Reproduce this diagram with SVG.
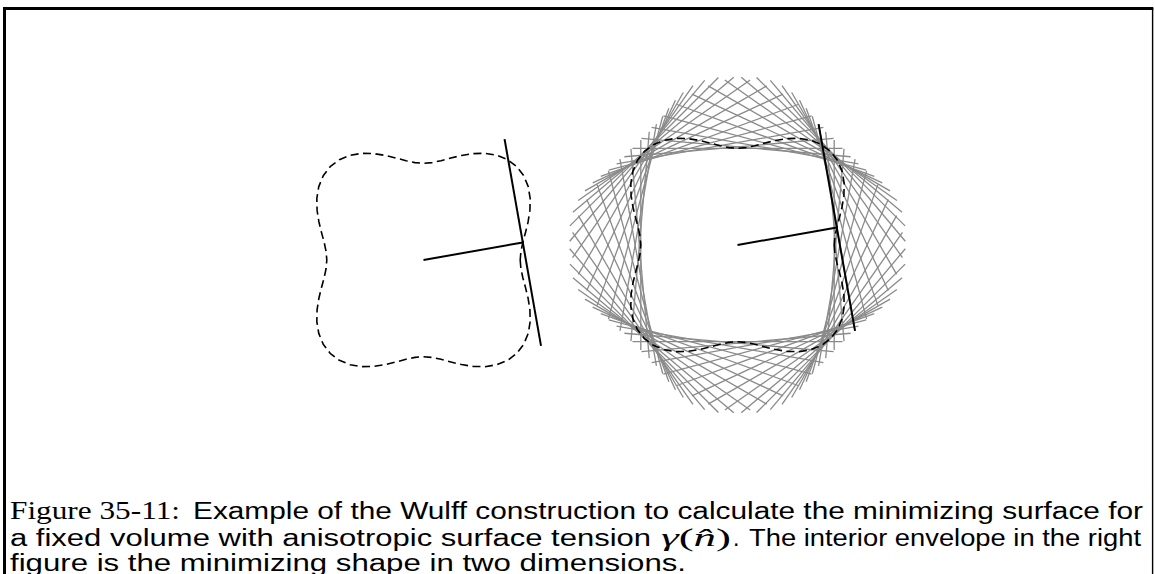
<svg xmlns="http://www.w3.org/2000/svg" xmlns:xlink="http://www.w3.org/1999/xlink" width="1155" height="574" viewBox="0 0 1155 574">
<style>
.frame{stroke:#000;fill:none}
.gamma{fill:none;stroke:#000;stroke-width:1.6;stroke-dasharray:8 4.5;stroke-linejoin:round}
.blk{stroke:#000;stroke-width:2;fill:none;stroke-linecap:butt}
.wulff{stroke:#8a8a8a;stroke-width:1.3;fill:none}
.sans{font-family:"Liberation Sans","DejaVu Sans",sans-serif;font-size:23px;fill:#000}
.serif{font-family:"Liberation Serif","DejaVu Serif",serif;font-size:25px;fill:#000}
</style>
<defs>
<path id="gammaCurve" d="M96.70,0 L97.39,8.52 L99.30,17.51 L101.93,27.31 L104.57,38.06 L106.41,49.62 L106.67,61.59 L104.74,73.34 L100.30,84.16 L93.34,93.34 L84.16,100.30 L73.34,104.74 L61.59,106.67 L49.62,106.41 L38.06,104.57 L27.31,101.93 L17.51,99.30 L8.52,97.39 L0,96.70 L-8.52,97.39 L-17.51,99.30 L-27.31,101.93 L-38.06,104.57 L-49.62,106.41 L-61.59,106.67 L-73.34,104.74 L-84.16,100.30 L-93.34,93.34 L-100.30,84.16 L-104.74,73.34 L-106.67,61.59 L-106.41,49.62 L-104.57,38.06 L-101.93,27.31 L-99.30,17.51 L-97.39,8.52 L-96.70,0 L-97.39,-8.52 L-99.30,-17.51 L-101.93,-27.31 L-104.57,-38.06 L-106.41,-49.62 L-106.67,-61.59 L-104.74,-73.34 L-100.30,-84.16 L-93.34,-93.34 L-84.16,-100.30 L-73.34,-104.74 L-61.59,-106.67 L-49.62,-106.41 L-38.06,-104.57 L-27.31,-101.93 L-17.51,-99.30 L-8.52,-97.39 L0,-96.70 L8.52,-97.39 L17.51,-99.30 L27.31,-101.93 L38.06,-104.57 L49.62,-106.41 L61.59,-106.67 L73.34,-104.74 L84.16,-100.30 L93.34,-93.34 L100.30,-84.16 L104.74,-73.34 L106.67,-61.59 L106.41,-49.62 L104.57,-38.06 L101.93,-27.31 L99.30,-17.51 L97.39,-8.52 Z"/>
<g id="quarter">
<line x1="96.70" y1="-105" x2="96.70" y2="105"/>
<line x1="97.76" y1="-105" x2="97.76" y2="105" transform="rotate(5)"/>
<line x1="100.83" y1="-105" x2="100.83" y2="105" transform="rotate(10)"/>
<line x1="105.53" y1="-105" x2="105.53" y2="105" transform="rotate(15)"/>
<line x1="111.29" y1="-105" x2="111.29" y2="105" transform="rotate(20)"/>
<line x1="117.42" y1="-105" x2="117.42" y2="105" transform="rotate(25)"/>
<line x1="123.18" y1="-105" x2="123.18" y2="105" transform="rotate(30)"/>
<line x1="127.87" y1="-105" x2="127.87" y2="105" transform="rotate(35)"/>
<line x1="130.94" y1="-105" x2="130.94" y2="105" transform="rotate(40)"/>
<line x1="132.00" y1="-105" x2="132.00" y2="105" transform="rotate(45)"/>
<line x1="130.94" y1="-105" x2="130.94" y2="105" transform="rotate(50)"/>
<line x1="127.87" y1="-105" x2="127.87" y2="105" transform="rotate(55)"/>
<line x1="123.18" y1="-105" x2="123.18" y2="105" transform="rotate(60)"/>
<line x1="117.42" y1="-105" x2="117.42" y2="105" transform="rotate(65)"/>
<line x1="111.29" y1="-105" x2="111.29" y2="105" transform="rotate(70)"/>
<line x1="105.53" y1="-105" x2="105.53" y2="105" transform="rotate(75)"/>
<line x1="100.83" y1="-105" x2="100.83" y2="105" transform="rotate(80)"/>
<line x1="97.76" y1="-105" x2="97.76" y2="105" transform="rotate(85)"/>
</g>
</defs>

<g id="frame" class="frame">
<line x1="3" y1="8.5" x2="1153.3" y2="8.5" stroke-width="2.8"/>
<line x1="4.5" y1="7" x2="4.5" y2="574" stroke-width="3"/>
<line x1="1152.6" y1="8" x2="1152.6" y2="574" stroke-width="1.4"/>
</g>

<g id="left-figure" transform="translate(423.5,260)">
<use xlink:href="#gammaCurve" class="gamma"/>
<g id="left-normal"><line class="blk" x1="0" y1="0" x2="99.30" y2="-17.51"/></g>
<g id="left-tangent"><line class="blk" x1="81.07" y1="-120.91" x2="117.53" y2="85.89"/></g>
</g>

<g id="right-figure" transform="translate(737.5,245)">
<g id="wulff-planes" class="wulff">
<use xlink:href="#quarter"/>
<use xlink:href="#quarter" transform="rotate(90)"/>
<use xlink:href="#quarter" transform="rotate(180)"/>
<use xlink:href="#quarter" transform="rotate(270)"/>
</g>
<use xlink:href="#gammaCurve" class="gamma"/>
<g id="right-normal"><line class="blk" x1="0" y1="0" x2="99.30" y2="-17.51"/></g>
<g id="right-tangent"><line class="blk" x1="81.07" y1="-120.91" x2="117.53" y2="85.89"/></g>
</g>

<g id="caption">
<text class="serif" x="10" y="519" textLength="170" lengthAdjust="spacingAndGlyphs">Figure 35-11:</text>
<text class="sans" x="193" y="519" textLength="950" lengthAdjust="spacingAndGlyphs">Example of the Wulff construction to calculate the minimizing surface for</text>
<text class="sans" x="10" y="546" textLength="641" lengthAdjust="spacingAndGlyphs">a fixed volume with anisotropic surface tension</text>
<text class="serif" x="661" y="546" textLength="70" lengthAdjust="spacingAndGlyphs"><tspan font-style="italic">γ</tspan>(<tspan font-style="italic">n̂</tspan>)</text>
<text class="sans" x="733" y="546">.</text>
<text class="sans" x="749" y="546" textLength="392" lengthAdjust="spacingAndGlyphs">The interior envelope in the right</text>
<text class="sans" x="10" y="571" textLength="676" lengthAdjust="spacingAndGlyphs">figure is the minimizing shape in two dimensions.</text>
</g>
</svg>
